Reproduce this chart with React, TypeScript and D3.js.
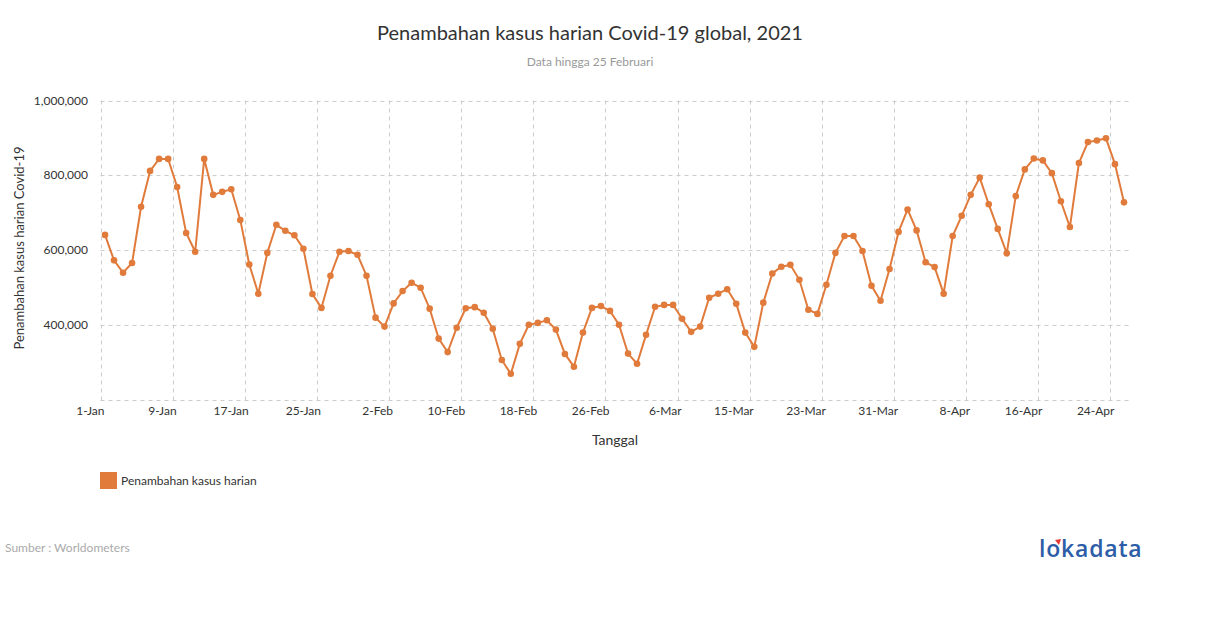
import React from "react";
import * as d3 from "d3";

const values: number[] = [
  641000, 573000, 540000, 566000, 716000, 812000, 844000, 844000, 769000, 646000,
  596000, 844000, 748000, 756000, 763000, 681000, 562000, 484000, 593000, 668000,
  652000, 640000, 604000, 483000, 446000, 532000, 596000, 598000, 588000, 532000,
  420000, 396000, 458000, 491000, 513000, 500000, 444000, 364000, 328000, 393000,
  445000, 448000, 433000, 390000, 307000, 270000, 350000, 401000, 406000, 413000,
  388000, 323000, 289000, 380000, 446000, 451000, 438000, 401000, 324000, 297000,
  374000, 449000, 454000, 454000, 417000, 382000, 396000, 473000, 484000, 496000,
  457000, 380000, 342000, 460000, 538000, 556000, 561000, 521000, 441000, 430000,
  508000, 593000, 638000, 638000, 598000, 505000, 465000, 550000, 649000, 709000,
  653000, 568000, 555000, 484000, 638000, 692000, 748000, 794000, 723000, 657000,
  592000, 745000, 816000, 845000, 840000, 806000, 731000, 662000, 833000, 889000,
  893000, 899000, 830000, 728000,
];

const tickLabels: string[] = [
  "1-Jan", "9-Jan", "17-Jan", "25-Jan", "2-Feb", "10-Feb", "18-Feb", "26-Feb",
  "6-Mar", "15-Mar", "23-Mar", "31-Mar", "8-Apr", "16-Apr", "24-Apr",
];
const tickStep = 8;

const yTicks: number[] = [200000, 400000, 600000, 800000, 1000000];

const W = 1210;
const H = 628;
const left = 100.5;
const right = 1128.5;
const top = 100.5;
const bottom = 400;
const color = "#E07B3C";
const font = "Lato, 'Open Sans', sans-serif";

export default function App() {
  const idx = values.map((_, i) => i);
  const x = d3.scaleBand<number>().domain(idx).range([left, right]).padding(0);
  const bw = x.bandwidth();
  const cx = (i: number) => (x(i) as number) + bw / 2;
  const y = d3.scaleLinear().domain([200000, 1000000]).range([bottom, top]);
  const line = d3
    .line<number>()
    .x((_, i) => cx(i))
    .y((d) => y(d));
  const fmt = d3.format(",");

  return (
    <svg
      width={W}
      height={H}
      style={{ position: "absolute", left: 0, top: 0, background: "#fff" }}
      fontFamily={font}
    >
      <text x={590} y={40} textAnchor="middle" fontSize={20} fill="#333">
        Penambahan kasus harian Covid-19 global, 2021
      </text>
      <text x={590} y={66} textAnchor="middle" fontSize={12} fill="#999">
        Data hingga 25 Februari
      </text>

      {/* horizontal grid */}
      {yTicks.map((t) => (
        <line
          key={"h" + t}
          x1={left}
          x2={right}
          y1={Math.round(y(t)) + 0.5}
          y2={Math.round(y(t)) + 0.5}
          stroke="#ccc"
          strokeDasharray="4,4"
        />
      ))}
      {/* vertical grid */}
      {tickLabels.map((lab, k) => {
        const xi = Math.round(x(k * tickStep) as number) + 0.5;
        return (
          <line
            key={"v" + lab}
            x1={xi}
            x2={xi}
            y1={top}
            y2={bottom + 4}
            stroke="#ccc"
            strokeDasharray="4,4"
          />
        );
      })}

      {/* y labels */}
      {yTicks
        .filter((t) => t > 200000)
        .map((t) => (
          <text
            key={"yl" + t}
            x={88}
            y={y(t) + 4}
            textAnchor="end"
            fontSize={12}
            fill="#333"
          >
            {fmt(t)}
          </text>
        ))}
      {/* x labels */}
      {tickLabels.map((lab, k) => (
        <text
          key={"xl" + lab}
          x={(x(k * tickStep) as number) + 4}
          y={415}
          textAnchor="end"
          fontSize={12}
          fill="#333"
        >
          {lab}
        </text>
      ))}

      <text
        transform={`translate(24,248) rotate(-90)`}
        textAnchor="middle"
        fontSize={13}
        fill="#333"
      >
        Penambahan kasus harian Covid-19
      </text>
      <text x={615} y={445} textAnchor="middle" fontSize={14} fill="#333">
        Tanggal
      </text>

      <path d={line(values) || ""} fill="none" stroke={color} strokeWidth={2} />
      {values.map((v, i) => (
        <circle key={"c" + i} cx={cx(i)} cy={y(v)} r={3.3} fill={color} />
      ))}

      {/* legend */}
      <rect x={100} y={472} width={17} height={17} fill={color} />
      <text x={121} y={485} fontSize={12} fill="#333">
        Penambahan kasus harian
      </text>

      <text x={5} y={552} fontSize={12} fill="#aaa">
        Sumber : Worldometers
      </text>

      <text
        x={1039}
        y={557}
        fontSize={23}
        fontWeight={600}
        fill="#2E5DA8"
        fontFamily="'Open Sans', sans-serif"
        letterSpacing={0.8}
      >
        lokadata
      </text>
      <path d="M1055,540 L1061,539 L1059,545 Z" fill="#E53935" />
    </svg>
  );
}
